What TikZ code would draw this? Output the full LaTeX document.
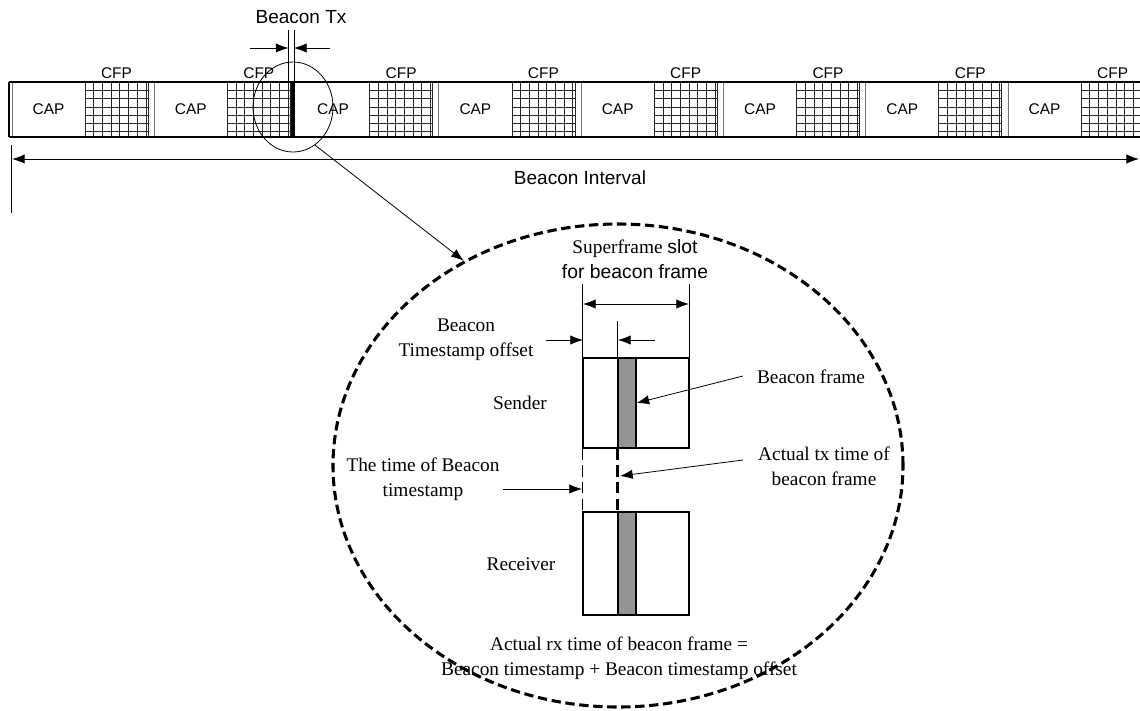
\documentclass[tikz,border=0pt]{standalone}
\usepackage{fontspec}
\setmainfont{Liberation Serif}
\setsansfont{Liberation Sans}
\usepackage{tikz}
\usetikzlibrary{arrows.meta, shapes.geometric}

\tikzset{
  sans/.style={font=\sffamily\fontsize{11.6}{13}\selectfont, inner sep=0pt},
  sansbig/.style={font=\sffamily\fontsize{14.25}{17}\selectfont, inner sep=0pt},
  serif/.style={font=\rmfamily\fontsize{14.5}{18.5}\selectfont, inner sep=0pt, align=center},
  slotbox/.style={draw, line width=1pt, inner sep=0pt, minimum width=79.5pt},
  framebar/.style={draw, line width=0.8pt, fill=black!42, inner sep=0pt, minimum width=13.5pt},
  dim/.style={line width=0.6pt},
  gridline/.style={line width=0.6pt, black!85},
  thickdash/.style={line width=2.3pt, dash pattern=on 7pt off 3.5pt}
}

\begin{document}
\begin{tikzpicture}[x=0.75pt, y=-0.75pt, >={Latex[length=9.5pt,width=7pt]}, line width=0.75pt]
\useasboundingbox (0,0) rectangle (1140,711);

% Superframes CAP / CFP
\begin{scope}
  \clip (0,0) rectangle (1140,711);
  \foreach \k in {0,...,7}{
    \pgfmathsetmacro{\s}{12+142.3*\k}
    \ifnum\k=2\else\draw[black!55] (\s,82) -- (\s,137);\fi
    \foreach \i in {0,...,7} \draw[gridline] (\s+73+8.7*\i,82) -- (\s+73+8.7*\i,137);
    \draw[gridline] (\s+136,82) -- (\s+136,137);
    \foreach \j in {1,...,6} \draw[gridline] (\s+73,82+8.3*\j) -- (\s+136,82+8.3*\j);
    \node[sans] (cap\k) at (\s+36.5,109) {CAP};
    \node[sans] (cfp\k) at (\s+104.5,73) {CFP};
  }
  \draw[line width=1pt] (9,82) -- (1140,82) (9,137) -- (1140,137) (9,82) -- (9,137);
\end{scope}

% Beacon Tx
\draw[line width=3.5pt, line cap=round] (293,84) -- (293,135);
\node[sansbig] (btx) at (301,17) {Beacon Tx};
\coordinate (txL) at (288.5,48);
\coordinate (txR) at (294,48);
\coordinate (txLtail) at (250,48);
\coordinate (txRtail) at (330,48);
\draw[dim] (288.5,30) -- (288.5,82) (294,30) -- (294,82);
\draw[dim,->] (txLtail) -- (txL);
\draw[dim,->] (txRtail) -- (txR);
\node[draw, ellipse, minimum width=60pt, minimum height=67.5pt, inner sep=0pt, line width=0.6pt] (zoom) at (293,107) {};

% Beacon Interval
\coordinate (biL) at (12,159);
\coordinate (biR) at (1139,159);
\draw[<->] (biL) -- (biR);
\draw (11,145) -- (11,213);
\node[sansbig] (bint) at (580,178) {Beacon Interval};

% zoomed slot
\node[draw, ellipse, thickdash, minimum width=427.5pt, minimum height=362.25pt, inner sep=0pt] (bigell) at (618,465.5) {};
\draw[dim,->] (zoom.-60) -- (bigell.127);

\node[slotbox, minimum height=67.5pt] (snd) at (636,403) {};
\node[framebar, minimum height=67.5pt] (sbar) at (627,403) {};
\node[slotbox, minimum height=77.25pt] (rcv) at (636,563.5) {};
\node[framebar, minimum height=77.25pt] (rbar) at (627,563.5) {};
\draw[line width=1pt, dash pattern=on 8.5pt off 4pt] (snd.south west) -- (rcv.north west);
\draw[line width=2pt, dash pattern=on 8.5pt off 4pt] (sbar.south west) -- (rbar.north west);

% dimension lines
\draw[dim] (snd.north west) -- ++(0,-73) (snd.north east) -- ++(0,-73) (sbar.north west) -- ++(0,-36);
\coordinate (slotL) at (583,304);
\coordinate (slotR) at (689,304);
\draw[dim,<->] (slotL) -- (slotR);
\coordinate (offL) at (583,340);
\coordinate (offR) at (618,340);
\coordinate (offLtail) at (546,340);
\coordinate (offRtail) at (655,340);
\draw[dim,->] (offLtail) -- (offL);
\draw[dim,->] (offRtail) -- (offR);

% labels
\node[serif] (sfslot) at (635,259) {Superframe {\sffamily slot}\\{\sffamily for beacon frame}};
\node[serif] (tsoff) at (466,340) {Beacon\\Timestamp offset};
\node[serif] (sender) at (520,403) {Sender};
\node[serif] (bframe) at (811,377) {Beacon frame};
\node[serif] (tbeacon) at (423,479) {The time of Beacon\\timestamp};
\node[serif] (txtime) at (824,466) {Actual tx time of\\beacon frame};
\node[serif] (receiver) at (521,564) {Receiver};
\node[serif] (rxtime) at (619,658) {Actual rx time of beacon frame =\\Beacon timestamp + Beacon timestamp offset};

\coordinate (bfTail) at (743,376);
\coordinate (txTail) at (743,460);
\coordinate (txTip) at (620,476);
\coordinate (tbTail) at (503,489);
\coordinate (tbTip) at (582,489);
\draw[dim,->] (bfTail) -- (sbar.east);
\draw[dim,->] (txTail) -- (txTip);
\draw[dim,->] (tbTail) -- (tbTip);
\end{tikzpicture}
\end{document}
